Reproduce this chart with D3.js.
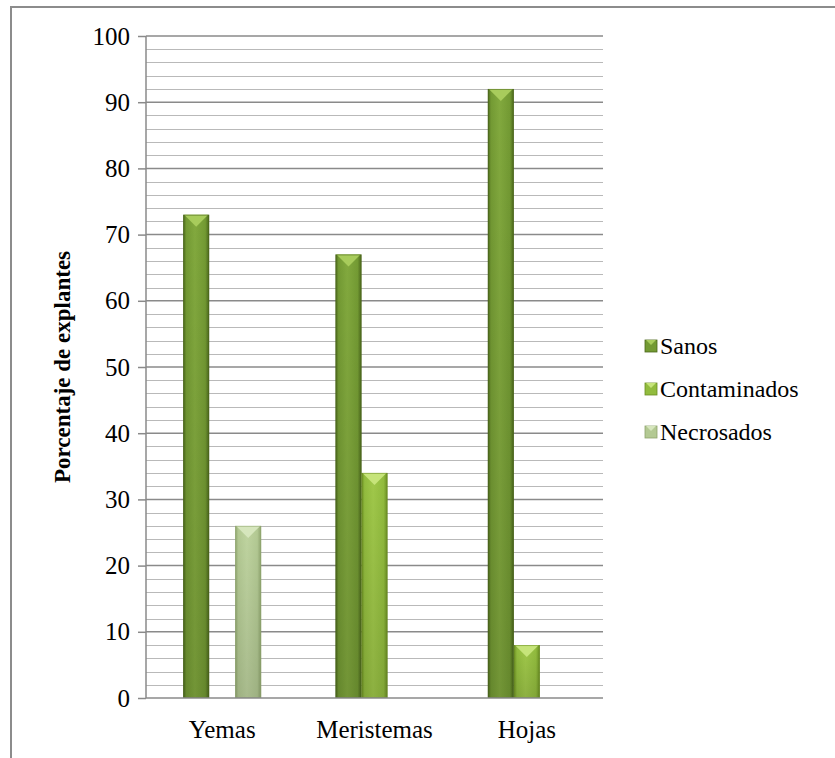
<!DOCTYPE html>
<html>
<head>
<meta charset="utf-8">
<script src="https://cdn.jsdelivr.net/npm/d3@7"></script>
<style>
  html, body { margin: 0; padding: 0; background: #fff; }
  svg { display: block; }
</style>
</head>
<body>
<svg id="chart" width="835" height="758"></svg>
<script>
// Explant condition by tissue type (percent)
const categories = ["Yemas", "Meristemas", "Hojas"];
const seriesNames = ["Sanos", "Contaminados", "Necrosados"];
const sanos = [73, 67, 92];
const contaminados = [0, 34, 8];
const necrosados = [26, 0, 0];
const yTickValues = [0, 10, 20, 30, 40, 50, 60, 70, 80, 90, 100];
const yMinorValues = d3.range(0, 101, 2);
const yTitle = "Porcentaje de explantes";

const seriesValues = [sanos, contaminados, necrosados];
const FONT = "Liberation Serif, Times New Roman, serif";

// fill styles per series: edge, body, highlight, cap
const palette = [
  { edge: "#4a661b", body: "#739a33", light: "#82a93e", cap: "#a8cc5c" },
  { edge: "#6a8d22", body: "#92bc3e", light: "#a0c84a", cap: "#c6e47a" },
  { edge: "#8ea46d", body: "#b3c993", light: "#bfd4a0", cap: "#d6e6bd" }
];

const svg = d3.select("#chart");
const margin = { left: 146, right: 603, top: 36, bottom: 698 };

const x0 = d3.scaleBand().domain(categories).range([margin.left, margin.right]).paddingInner(0).paddingOuter(0);
const groupW = 78;
const x1 = d3.scaleBand().domain(seriesNames).range([0, groupW]).padding(0);
const y = d3.scaleLinear().domain([0, 100]).range([margin.bottom, margin.top]);

// gradients
const defs = svg.append("defs");
palette.forEach((p, i) => {
  const g = defs.append("linearGradient").attr("id", "bar" + i)
    .attr("x1", "0").attr("x2", "1").attr("y1", "0").attr("y2", "0");
  g.append("stop").attr("offset", "0%").attr("stop-color", p.edge);
  g.append("stop").attr("offset", "12%").attr("stop-color", p.body);
  g.append("stop").attr("offset", "45%").attr("stop-color", p.light);
  g.append("stop").attr("offset", "85%").attr("stop-color", p.body);
  g.append("stop").attr("offset", "100%").attr("stop-color", p.edge);
  const v = defs.append("linearGradient").attr("id", "shade" + i)
    .attr("x1", "0").attr("x2", "0").attr("y1", "0").attr("y2", "1");
  v.append("stop").attr("offset", "0%").attr("stop-color", "#000").attr("stop-opacity", 0);
  v.append("stop").attr("offset", "100%").attr("stop-color", "#000").attr("stop-opacity", 0.12);
});

// outer frame (top and left)
svg.append("line").attr("x1", 10).attr("x2", 835).attr("y1", 7).attr("y2", 7)
  .attr("stroke", "#8c8c8c").attr("stroke-width", 2);
svg.append("line").attr("x1", 11).attr("x2", 11).attr("y1", 6).attr("y2", 758)
  .attr("stroke", "#8c8c8c").attr("stroke-width", 2);

// minor gridlines
svg.append("g").selectAll("line")
  .data(yMinorValues.filter(v => v % 10 !== 0))
  .join("line")
  .attr("x1", margin.left).attr("x2", margin.right)
  .attr("y1", d => Math.round(y(d)) + 0.5).attr("y2", d => Math.round(y(d)) + 0.5)
  .attr("stroke", "#b9b9b9").attr("stroke-width", 1.2);

// y axis with major gridlines
const yAxis = d3.axisLeft(y).tickValues(yTickValues).tickSize(8).tickPadding(8)
  .tickFormat(d3.format("d"));
const yg = svg.append("g").attr("transform", `translate(${margin.left},0)`).call(yAxis)
  .attr("font-family", FONT).attr("font-size", 25);
yg.select(".domain").attr("stroke", "#8a8a8a").attr("stroke-width", 1.5).attr("d", `M0,${margin.top}V${margin.bottom}`);
yg.selectAll(".tick line").attr("stroke", "#8a8a8a").attr("stroke-width", 1.5);
yg.selectAll(".tick text").attr("fill", "#000");
svg.append("g").selectAll("line")
  .data(yTickValues.filter(v => v > 0))
  .join("line")
  .attr("x1", margin.left).attr("x2", margin.right)
  .attr("y1", d => y(d)).attr("y2", d => y(d))
  .attr("stroke", "#8a8a8a").attr("stroke-width", 1.5);

// bars
const barsG = svg.append("g");
categories.forEach((cat, ci) => {
  const gx = x0(cat) + (x0.bandwidth() - groupW) / 2;
  seriesNames.forEach((s, si) => {
    const v = seriesValues[si][ci];
    if (!v) return;
    const bx = gx + x1(s);
    const bw = x1.bandwidth();
    const top = y(v), bottom = y(0);
    const p = palette[si];
    barsG.append("rect").attr("x", bx).attr("y", top).attr("width", bw).attr("height", bottom - top)
      .attr("fill", `url(#bar${si})`);
    barsG.append("rect").attr("x", bx).attr("y", top).attr("width", bw).attr("height", bottom - top)
      .attr("fill", `url(#shade${si})`);
    // beveled cap
    const capH = Math.min(12, (bottom - top) / 2);
    barsG.append("path")
      .attr("d", `M${bx + 1},${top} L${bx + bw - 1},${top} L${bx + bw / 2},${top + capH} Z`)
      .attr("fill", p.cap);
    // outline edges
    barsG.append("rect").attr("x", bx + 0.5).attr("y", top + 0.5).attr("width", bw - 1).attr("height", bottom - top - 1)
      .attr("fill", "none").attr("stroke", p.edge).attr("stroke-opacity", 0.55).attr("stroke-width", 1);
  });
});

// x axis baseline
svg.append("line").attr("x1", margin.left).attr("x2", margin.right)
  .attr("y1", margin.bottom).attr("y2", margin.bottom)
  .attr("stroke", "#8a8a8a").attr("stroke-width", 1.5);

// category labels
svg.append("g").attr("font-family", FONT).selectAll("text").data(categories).join("text")
  .attr("x", d => x0(d) + x0.bandwidth() / 2)
  .attr("y", 738)
  .attr("text-anchor", "middle")
  .attr("font-size", 25)
  .attr("fill", "#000")
  .text(d => d);

// y title
svg.append("text")
  .attr("transform", `translate(70,${(margin.top + margin.bottom) / 2}) rotate(-90)`)
  .attr("text-anchor", "middle")
  .attr("font-family", FONT)
  .attr("font-size", 23)
  .attr("font-weight", "bold")
  .attr("fill", "#000")
  .text(yTitle);

// legend
const legend = svg.append("g").attr("transform", "translate(645,0)").attr("font-family", FONT);
const legendY = [346, 389, 432];
seriesNames.forEach((s, i) => {
  const p = palette[i];
  const gy = legendY[i];
  legend.append("rect").attr("x", 0).attr("y", gy - 6).attr("width", 12).attr("height", 12)
    .attr("fill", p.body).attr("stroke", p.edge).attr("stroke-width", 0.8);
  legend.append("path").attr("d", `M1,${gy - 6} L11,${gy - 6} L6,${gy - 1} Z`).attr("fill", p.cap);
  legend.append("text").attr("x", 15).attr("y", gy + 8).attr("font-size", 24).attr("fill", "#000").text(s);
});
</script>
</body>
</html>
